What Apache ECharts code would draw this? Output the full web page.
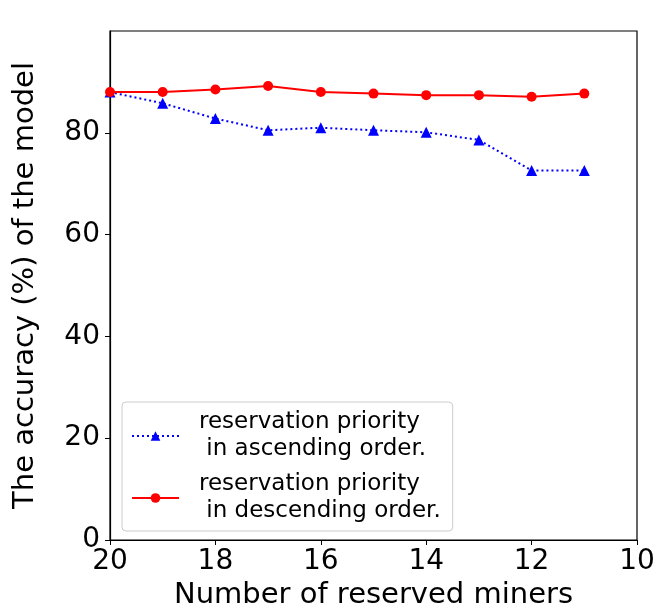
<!DOCTYPE html>
<html>
<head>
<meta charset="utf-8">
<script src="https://cdn.jsdelivr.net/npm/echarts@6/dist/echarts.min.js"></script>
<style>
html,body{margin:0;padding:0;background:#fff;}
#chart{width:657px;height:609px;}
</style>
</head>
<body>
<div id="chart"></div>
<script>
var minersX = [20, 19, 18, 17, 16, 15, 14, 13, 12, 11];
var ascendingAcc = [88.0, 85.8, 82.8, 80.5, 81.0, 80.5, 80.1, 78.6, 72.6, 72.6];
var descendingAcc = [88.0, 88.0, 88.5, 89.2, 88.0, 87.7, 87.4, 87.4, 87.1, 87.7];
var yTicks = [0, 20, 40, 60, 80];
var xTicks = [10, 12, 14, 16, 18, 20];
var nameAsc = 'reservation priority\n in ascending order.';
var nameDesc = 'reservation priority\n in descending order.';
var xTitle = 'Number of reserved miners';
var yTitle = 'The accuracy (%) of the model';

function pairs(xs, ys){ return xs.map(function(x,i){ return [x, ys[i]]; }); }

var font = 'DejaVu Sans';
var chart = echarts.init(document.getElementById('chart'), null, {renderer:'canvas'});
chart.setOption({
  animation:false,
  backgroundColor:'#fff',
  textStyle:{fontFamily:font},
  grid:{left:110, right:20, top:31, bottom:69, show:true, borderColor:'#000', borderWidth:1.2, backgroundColor:'transparent', containLabel:false, outerBoundsMode:'none'},
  legend:{
    orient:'vertical', left:122, top:402,
    padding:[7,12,6,9], itemGap:8, itemWidth:47, itemHeight:12,
    backgroundColor:'#fff', borderColor:'#cccccc', borderWidth:1, borderRadius:4,
    textStyle:{fontFamily:font, fontSize:23, lineHeight:27, color:'#000', padding:[0,0,0,15]},
    data:[nameAsc, nameDesc]
  },
  xAxis:{
    type:'value', min:10, max:20, interval:2, inverse:true,
    name:xTitle, nameLocation:'middle', nameGap:41,
    nameTextStyle:{fontFamily:font, fontSize:29, color:'#000'},
    axisLine:{show:true, onZero:false, lineStyle:{color:'#000', width:1.2}},
    axisTick:{show:true, inside:false, length:5, lineStyle:{color:'#000'}, customValues:xTicks},
    axisLabel:{fontFamily:font, fontSize:28, color:'#000', margin:8, customValues:xTicks},
    splitLine:{show:false}
  },
  yAxis:{
    type:'value', min:0, max:100, interval:20,
    name:yTitle, nameLocation:'middle', nameGap:70, nameRotate:90,
    nameTextStyle:{fontFamily:font, fontSize:29, color:'#000'},
    axisLine:{show:true, lineStyle:{color:'#000', width:1.2}},
    axisTick:{show:true, inside:false, length:5, lineStyle:{color:'#000'}, customValues:yTicks},
    axisLabel:{fontFamily:font, fontSize:28, color:'#000', margin:10, customValues:yTicks},
    splitLine:{show:false}
  },
  series:[
    {
      name:nameAsc, type:'line', data:pairs(minersX, ascendingAcc),
      symbol:'triangle', symbolSize:11,
      itemStyle:{color:'#0000ff'},
      lineStyle:{color:'#0000ff', width:2, type:[2,3]},
      z:3
    },
    {
      name:nameDesc, type:'line', data:pairs(minersX, descendingAcc),
      symbol:'circle', symbolSize:10,
      itemStyle:{color:'#ff0000'},
      lineStyle:{color:'#ff0000', width:2},
      z:4
    }
  ]
});
</script>
</body>
</html>
